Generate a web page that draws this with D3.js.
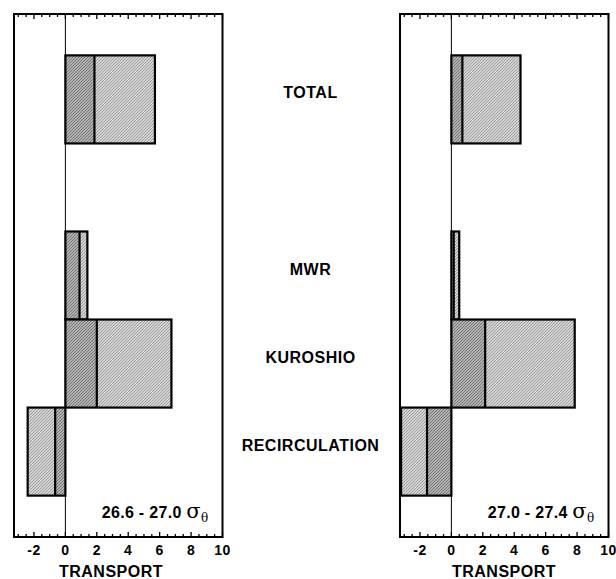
<!DOCTYPE html>
<html>
<head>
<meta charset="utf-8">
<script src="https://cdn.jsdelivr.net/npm/d3@7"></script>
<style>
  body { margin: 0; background: #fff; }
  svg text { font-family: "Liberation Sans", Arial, sans-serif; font-weight: bold; fill: #000; }
</style>
</head>
<body>
<div class="grafico"></div>
<script>
// rows of each panel (a blank slot sits between TOTAL and MWR)
var filas = ["TOTAL", "hueco", "MWR", "KUROSHIO", "RECIRCULATION"];
var categorias = ["TOTAL", "MWR", "KUROSHIO", "RECIRCULATION"];

// left panel 26.6 - 27.0
var izqInterior = [1.85, 0.9, 2.0, -0.65];
var izqExterior = [5.7, 1.4, 6.75, -2.4];

// right panel 27.0 - 27.4
var derInterior = [0.7, 0.15, 2.15, -1.55];
var derExterior = [4.4, 0.5, 7.85, -3.2];

var etiquetasTicks = [-2, 0, 2, 4, 6, 8, 10];

var contenedor = d3
  .select('.grafico')
  .append('svg')
  .attr('width', 616)
  .attr('height', 579);

// halftone-ish fills
var defs = contenedor.append('defs');
function trama(id, a, b) {
  var p = defs.append('pattern')
    .attr('id', id)
    .attr('patternUnits', 'userSpaceOnUse')
    .attr('width', 3)
    .attr('height', 3);
  p.append('rect').attr('width', 3).attr('height', 3).attr('fill', a);
  p.append('rect').attr('width', 1).attr('height', 1).attr('fill', b);
  p.append('rect').attr('x', 2).attr('y', 1).attr('width', 1).attr('height', 1).attr('fill', b);
  p.append('rect').attr('x', 1).attr('y', 2).attr('width', 1).attr('height', 1).attr('fill', b);
}
trama('oscuro', '#b4b4b4', '#707070');
trama('claro', '#d6d6d6', '#989898');

const yScale = d3.scaleBand()
  .domain(filas)
  .range([14, 537])
  .paddingInner(0)
  .paddingOuter(0.47);

function panel(x0, x1, interior, exterior, densidad, transporteX) {
  const xScale = d3.scaleLinear()
    .domain([-3.27, 10])
    .range([x0, x1]);

  var g = contenedor.append('g');

  var datos = categorias.map(function (c, i) {
    return { cat: c, ini: interior[i], fin: exterior[i] };
  });

  // zero line
  g.append('line')
    .attr('x1', xScale(0)).attr('x2', xScale(0))
    .attr('y1', 14).attr('y2', 537)
    .attr('stroke', '#000')
    .attr('stroke-width', 1);

  var barras = g.selectAll('.barra')
    .data(datos)
    .enter()
    .append('g')
    .attr('class', 'barra');

  barras.append('rect')
    .attr('x', d => Math.min(xScale(0), xScale(d.ini)))
    .attr('width', d => Math.abs(xScale(d.ini) - xScale(0)))
    .attr('y', d => yScale(d.cat))
    .attr('height', yScale.bandwidth())
    .attr('fill', 'url(#oscuro)');

  barras.append('rect')
    .attr('x', d => Math.min(xScale(d.ini), xScale(d.fin)))
    .attr('width', d => Math.abs(xScale(d.fin) - xScale(d.ini)))
    .attr('y', d => yScale(d.cat))
    .attr('height', yScale.bandwidth())
    .attr('fill', 'url(#claro)');

  barras.append('rect')
    .attr('x', d => Math.min(xScale(0), xScale(d.fin)))
    .attr('width', d => Math.abs(xScale(d.fin) - xScale(0)))
    .attr('y', d => yScale(d.cat))
    .attr('height', yScale.bandwidth())
    .attr('fill', 'none')
    .attr('stroke', '#000')
    .attr('stroke-width', 2.2);

  barras.append('line')
    .attr('x1', d => xScale(d.ini))
    .attr('x2', d => xScale(d.ini))
    .attr('y1', d => yScale(d.cat))
    .attr('y2', d => yScale(d.cat) + yScale.bandwidth())
    .attr('stroke', '#000')
    .attr('stroke-width', 2.2);

  // ticks every 0.5, longer on even numbers
  var valoresTicks = d3.range(-3, 10.01, 0.5);
  var ticks = g.append('g');
  valoresTicks.forEach(function (v) {
    var largo = (v % 2 === 0) ? 5 : 3;
    ticks.append('line')
      .attr('x1', xScale(v)).attr('x2', xScale(v))
      .attr('y1', 14).attr('y2', 14 + largo)
      .attr('stroke', '#000').attr('stroke-width', 1.3);
    ticks.append('line')
      .attr('x1', xScale(v)).attr('x2', xScale(v))
      .attr('y1', 537).attr('y2', 537 - largo)
      .attr('stroke', '#000').attr('stroke-width', 1.3);
  });

  // frame
  g.append('rect')
    .attr('x', x0)
    .attr('y', 14)
    .attr('width', x1 - x0)
    .attr('height', 523)
    .attr('fill', 'none')
    .attr('stroke', '#000')
    .attr('stroke-width', 2);

  g.selectAll('.num')
    .data(etiquetasTicks)
    .enter()
    .append('text')
    .attr('class', 'num')
    .attr('x', d => xScale(d))
    .attr('y', 555)
    .attr('text-anchor', 'middle')
    .style('font-size', '14px')
    .style('letter-spacing', '0.5px')
    .text(d => d);

  g.append('text')
    .attr('x', transporteX)
    .attr('y', 577)
    .attr('text-anchor', 'middle')
    .style('font-size', '16px')
    .style('letter-spacing', '0.5px')
    .text('TRANSPORT');

  var rotulo = g.append('text')
    .attr('x', x1 - 14)
    .attr('y', 518)
    .attr('text-anchor', 'end')
    .style('font-size', '16px')
    .style('letter-spacing', '0.3px');
  rotulo.append('tspan').text(densidad + ' ');
  rotulo.append('tspan')
    .style('font-family', '"DejaVu Serif", "Liberation Serif", serif')
    .style('font-weight', 'normal')
    .style('font-size', '21px')
    .text('\u03C3');
  rotulo.append('tspan')
    .attr('dy', 4)
    .style('font-family', '"DejaVu Serif", "Liberation Serif", serif')
    .style('font-weight', 'normal')
    .style('font-size', '12px')
    .text('\u03B8');
}

panel(14, 222.5, izqInterior, izqExterior, '26.6 - 27.0', 111);
panel(400, 608.5, derInterior, derExterior, '27.0 - 27.4', 504);

// row labels in the middle
contenedor.selectAll('.rotulo')
  .data(categorias)
  .enter()
  .append('text')
  .attr('class', 'rotulo')
  .attr('x', 310.5)
  .attr('y', d => yScale(d) + yScale.bandwidth() / 2 - 1)
  .attr('text-anchor', 'middle')
  .style('font-size', '16px')
  .style('letter-spacing', '0.5px')
  .text(d => d);
</script>
</body>
</html>
